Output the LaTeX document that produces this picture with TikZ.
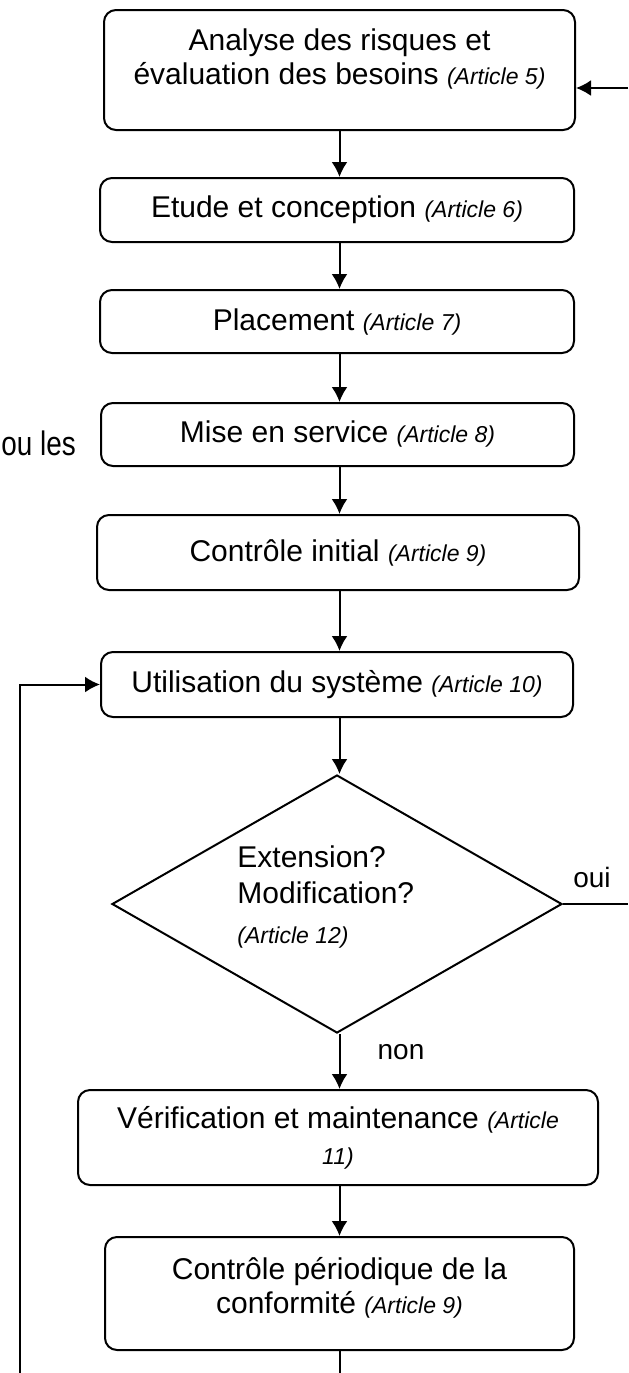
\documentclass[tikz,border=0pt]{standalone}
\usepackage{fontspec}
\setmainfont{Liberation Sans}
\newfontfamily\narrowfont[FakeStretch=0.82]{Liberation Sans}
\usetikzlibrary{arrows.meta,shapes.geometric}
\begin{document}
\begin{tikzpicture}[x=0.5pt,y=-0.5pt,
  stepbox/.style={draw=black,line width=1pt,rounded corners=6pt,align=center,inner sep=2pt,font=\fontsize{15}{18}\selectfont},
  boxtext/.style={align=center,inner sep=0pt,font=\fontsize{15}{17}\selectfont},
  arr/.style={line width=1pt,-{Latex[length=7.5pt,width=8pt]}},
  plain/.style={line width=1pt},
  lbl/.style={font=\fontsize{14}{17}\selectfont},
]
\useasboundingbox (0,0) rectangle (628,1373);
\newcommand{\art}[1]{{\fontsize{11.5}{14}\selectfont\itshape (Article #1)}}
\node[stepbox,minimum width=235.5pt,minimum height=60pt] (b1) at (339.5,70) {};
\node[boxtext] (t1) at ([yshift=5.5pt]b1.center)
  {Analyse des risques et\\ évaluation des besoins \art{5}};
\node[stepbox,minimum width=237pt,minimum height=32pt] (b2) at (337,210)
  {Etude et conception \art{6}};
\node[stepbox,minimum width=237pt,minimum height=31.5pt] (b3) at (337,321.5)
  {Placement \art{7}};
\node[stepbox,minimum width=236.5pt,minimum height=31.5pt] (b4) at (337.5,434.5)
  {Mise en service \art{8}};
\node[stepbox,minimum width=241pt,minimum height=37.5pt] (b5) at (338,552.5)
  {Contrôle initial \art{9}};
\node[stepbox,minimum width=236pt,minimum height=32.5pt] (b6) at (337,684.5)
  {Utilisation du système \art{10}};
\node[draw=black,line width=1pt,diamond,minimum width=225pt,minimum height=129pt,inner sep=0pt] (dia) at (337,904) {};
\node[anchor=west,align=left,font=\fontsize{15}{18}\selectfont,inner sep=0pt] (diatext) at (237,897)
  {Extension?\\ Modification?\\[2pt] \art{12}};
\node[stepbox,minimum width=260pt,minimum height=47.5pt] (b7) at (338,1137.5)
  {Vérification et maintenance {\fontsize{11.5}{14}\selectfont\itshape (Article}\\ {\fontsize{11.5}{14}\selectfont\itshape 11)}};
\node[stepbox,minimum width=234.5pt,minimum height=56.5pt] (b8) at (339.5,1293.5) {};
\node[boxtext] (t8) at ([yshift=3pt]b8.center)
  {Contrôle périodique de la\\ conformité \art{9}};
\node[anchor=west,inner sep=0pt,font=\narrowfont\fontsize{17}{20}\selectfont] (oules) at (1,443) {ou les};
\node[lbl,inner sep=0pt] (oui) at (592,877) {oui};
\node[lbl,inner sep=0pt] (non) at (401,1052) {non};
\coordinate (tr) at (628,88);
\coordinate (ouiend) at (628,905);
\coordinate (loopstart) at (20,1373);
\coordinate (botend) at (340,1373);
\draw[arr] (tr) -- (tr -| b1.east);
\draw[arr] (b1.south) -- (b1.south |- b2.north);
\draw[arr] (b2.south -| b1.south) -- (b1.south |- b3.north);
\draw[arr] (b3.south -| b1.south) -- (b1.south |- b4.north);
\draw[arr] (b4.south -| b1.south) -- (b1.south |- b5.north);
\draw[arr] (b5.south -| b1.south) -- (b1.south |- b6.north);
\draw[arr] (b6.south -| b1.south) -- (b1.south |- dia.north);
\draw[arr] (dia.south -| b1.south) -- (b1.south |- b7.north);
\draw[arr] (b7.south -| b1.south) -- (b1.south |- b8.north);
\draw[plain] (b8.south -| botend) -- (botend);
\draw[plain] (dia.east) -- (dia.east -| ouiend);
\draw[arr] (loopstart) |- (b6.west);
\end{tikzpicture}
\end{document}
